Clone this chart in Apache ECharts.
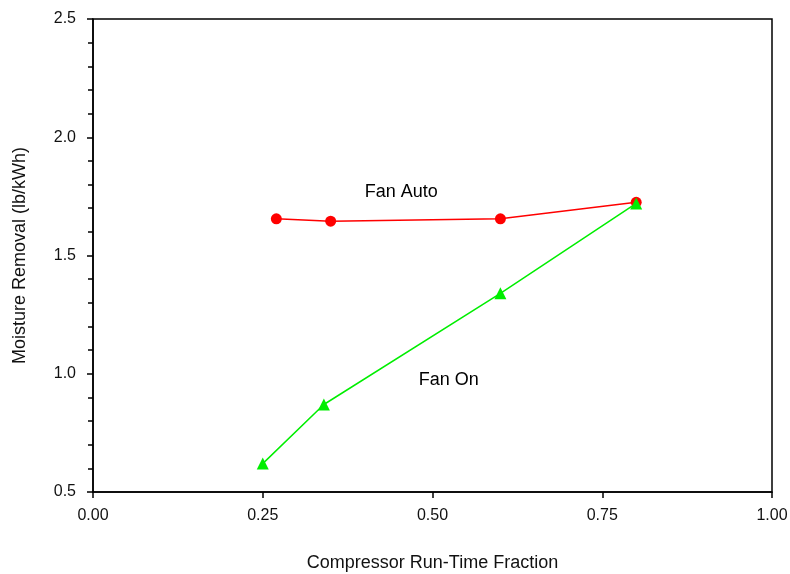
<!DOCTYPE html>
<html>
<head>
<meta charset="utf-8">
<script src="https://cdn.jsdelivr.net/npm/echarts@6/dist/echarts.min.js"></script>
<style>
  html, body { margin: 0; padding: 0; background: #fff; }
  #chart { width: 790px; height: 574px; }
</style>
</head>
<body>
<div id="chart"></div>
<script>
// data
const fanAutoX = [0.27, 0.35, 0.60, 0.80]
const fanAutoY = [1.655, 1.645, 1.655, 1.725]
const fanOnX = [0.25, 0.34, 0.60, 0.80]
const fanOnY = [0.62, 0.87, 1.34, 1.72]

const xTicks = [0, 0.25, 0.5, 0.75, 1.0]
const yTicks = [0.5, 1.0, 1.5, 2.0, 2.5]

// curve labels, placed in data units
const labelText = ['Fan Auto', 'Fan On']
const labelX = [0.454, 0.524]
const labelY = [1.77, 0.975]

const font = 'Liberation Sans, Arial, sans-serif'

const chart = echarts.init(document.getElementById('chart'))

const pairs = (xs, ys) => xs.map((x, i) => [x, ys[i]])

const option = {
  animation: false,
  backgroundColor: '#fff',
  grid: {
    left: 93,
    top: 19,
    right: 18,
    bottom: 82,
    containLabel: false,
    outerBoundsMode: 'none',
    show: true,
    borderColor: '#000',
    borderWidth: 1.5
  },
  xAxis: {
    type: 'value',
    min: xTicks[0],
    max: xTicks[xTicks.length - 1],
    interval: 0.25,
    name: 'Compressor Run-Time Fraction',
    nameLocation: 'middle',
    nameGap: 62,
    nameTextStyle: { fontFamily: font, fontSize: 18, color: '#111' },
    axisLine: { lineStyle: { color: '#000', width: 1.5 } },
    axisTick: { inside: false, length: 6, lineStyle: { color: '#000', width: 1.5 } },
    axisLabel: {
      margin: 16,
      fontFamily: font,
      fontSize: 16,
      color: '#111',
      formatter: v => v.toFixed(2)
    },
    splitLine: { show: false }
  },
  yAxis: {
    type: 'value',
    min: yTicks[0],
    max: yTicks[yTicks.length - 1],
    interval: 0.5,
    name: 'Moisture Removal (lb/kWh)',
    nameLocation: 'middle',
    nameGap: 64,
    nameTextStyle: { fontFamily: font, fontSize: 18, color: '#111' },
    axisLine: { lineStyle: { color: '#000', width: 1.5 } },
    axisTick: { length: 6, lineStyle: { color: '#000', width: 1.5 } },
    minorTick: { show: true, splitNumber: 5, length: 5, lineStyle: { color: '#000', width: 1.5 } },
    axisLabel: {
      margin: 17,
      fontFamily: font,
      fontSize: 16,
      color: '#111',
      formatter: v => v.toFixed(1)
    },
    splitLine: { show: false }
  },
  series: [
    {
      name: 'Fan Auto',
      type: 'line',
      data: pairs(fanAutoX, fanAutoY),
      symbol: 'circle',
      symbolSize: 11,
      lineStyle: { color: '#ff0000', width: 1.5 },
      itemStyle: { color: '#ff0000' }
    },
    {
      name: 'Fan On',
      type: 'line',
      data: pairs(fanOnX, fanOnY),
      symbol: 'triangle',
      symbolSize: 12,
      lineStyle: { color: '#00ee00', width: 1.5 },
      itemStyle: { color: '#00ee00' }
    },
    {
      name: 'labels',
      type: 'scatter',
      symbolSize: 1,
      silent: true,
      itemStyle: { opacity: 1, color: 'rgba(0,0,0,0)' },
      data: labelText.map((t, i) => ({ value: [labelX[i], labelY[i]], name: t })),
      label: {
        show: true,
        position: 'inside',
        formatter: p => p.name,
        fontFamily: font,
        fontSize: 18,
        color: '#000',
        opacity: 1,
        textBorderWidth: 0
      }
    }
  ]
}

chart.setOption(option)
</script>
</body>
</html>
